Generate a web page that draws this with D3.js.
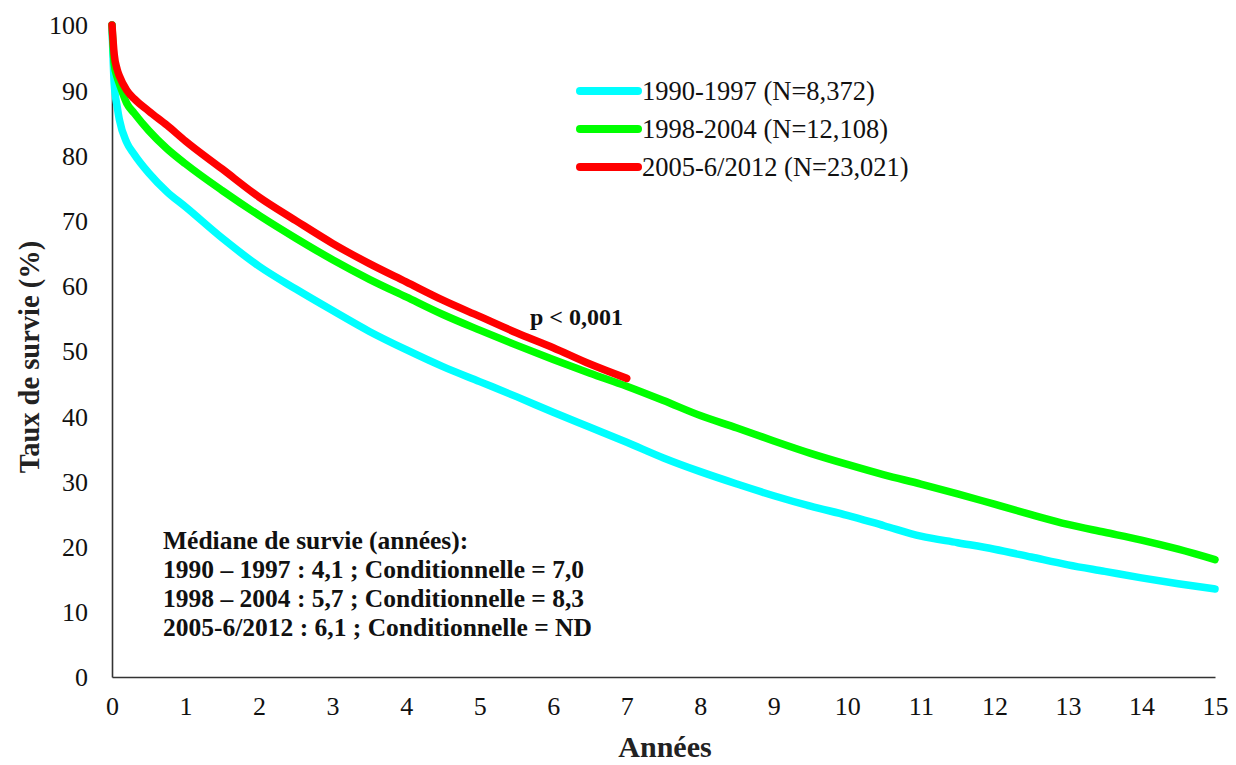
<!DOCTYPE html>
<html>
<head>
<meta charset="utf-8">
<script src="https://cdn.jsdelivr.net/npm/d3@7"></script>
<style>
  html, body { margin: 0; padding: 0; background: #fff; }
  svg { display: block; font-family: "Liberation Serif", "Times New Roman", serif; }
</style>
</head>
<body>
<div id="chart"></div>
<script>
// Survival curves (years -> % surviving)
const TIMES = [0, 0.03, 0.07, 0.1, 0.2, 0.3, 0.5, 0.75, 1, 1.5, 2, 2.5, 3, 3.5, 4, 4.5, 5, 5.5, 6, 6.5, 7,
  7.5, 8, 8.5, 9, 9.5, 10, 10.5, 11, 11.5, 12, 12.5, 13, 13.5, 14, 14.5, 15];

const S_1990 = [100, 91, 87.5, 85.5, 82, 80.2, 77.3, 74.4, 72.1, 67.3, 63, 59.5, 56.2, 53, 50.2, 47.6, 45.3, 43, 40.6, 38.3, 36,
  33.6, 31.5, 29.6, 27.8, 26.2, 24.8, 23.2, 21.6, 20.6, 19.6, 18.4, 17.2, 16.2, 15.2, 14.3, 13.5];
const S_1998 = [100, 94, 92, 91, 88, 86.5, 83.8, 81, 78.7, 74.6, 70.8, 67.3, 64, 61, 58.3, 55.6, 53.2, 50.9, 48.7, 46.6, 44.6,
  42.4, 40.1, 38.2, 36.2, 34.3, 32.6, 31, 29.6, 28.1, 26.5, 24.9, 23.4, 22.2, 21, 19.6, 18];
const S_2005 = [100, 95.5, 93.2, 92.2, 90, 88.7, 86.8, 84.6, 82.2, 77.9, 73.6, 70, 66.5, 63.4, 60.6, 57.8, 55.3, 52.8, 50.5, 48, 45.8];

const SERIES = [
  { name: "1990-1997 (N=8,372)", color: "#00ffff", values: S_1990 },
  { name: "1998-2004 (N=12,108)", color: "#00ff00", values: S_1998 },
  { name: "2005-6/2012 (N=23,021)", color: "#ff0000", values: S_2005 }
];

const X_TICKS = d3.range(0, 16);
const Y_TICKS = d3.range(0, 101, 10);

const MEDIAN_LINES = [
  "Médiane de survie (années):",
  "1990 – 1997 : 4,1 ; Conditionnelle = 7,0",
  "1998 – 2004 : 5,7 ; Conditionnelle = 8,3",
  "2005-6/2012 : 6,1 ; Conditionnelle = ND"
];

const width = 1236, height = 765;
const m = { top: 25, right: 20, bottom: 88, left: 112 };

const svg = d3.select("#chart").append("svg")
  .attr("width", width)
  .attr("height", height);

const x = d3.scaleLinear().domain([0, 15]).range([m.left, 1215]);
const y = d3.scaleLinear().domain([0, 100]).range([677, m.top]);

// ----- axes -----
const xAxis = svg.append("g")
  .attr("transform", `translate(0,${y(0)})`)
  .call(d3.axisBottom(x).tickValues(X_TICKS).tickFormat(d3.format("d")).tickSize(0).tickPadding(20));

const yAxis = svg.append("g")
  .attr("transform", `translate(${m.left},0)`)
  .call(d3.axisLeft(y).tickValues(Y_TICKS).tickFormat(d3.format("d")).tickSize(0).tickPadding(24));

[xAxis, yAxis].forEach(a => {
  a.select(".domain").attr("stroke", "#333").attr("stroke-width", 1.6);
  a.selectAll("text")
    .attr("font-family", "Liberation Serif, serif")
    .attr("font-size", 26)
    .attr("fill", "#111");
});
yAxis.selectAll("text").attr("dy", "0.34em");

// axis titles
svg.append("text")
  .attr("x", 665)
  .attr("y", 746)
  .attr("text-anchor", "middle")
  .attr("dominant-baseline", "central")
  .attr("font-weight", "bold")
  .attr("font-size", 30)
  .attr("fill", "#222")
  .text("Années");

svg.append("text")
  .attr("transform", `translate(29,357) rotate(-90)`)
  .attr("text-anchor", "middle")
  .attr("dominant-baseline", "central")
  .attr("font-weight", "bold")
  .attr("font-size", 28.5)
  .attr("fill", "#222")
  .text("Taux de survie (%)");

// ----- curves -----
const line = d3.line()
  .curve(d3.curveMonotoneX)
  .x(d => x(d[0]))
  .y(d => y(d[1]));

SERIES.forEach(s => {
  svg.append("path")
    .datum(s.values.map((v, i) => [TIMES[i], v]))
    .attr("fill", "none")
    .attr("stroke", s.color)
    .attr("stroke-width", 7.5)
    .attr("stroke-linejoin", "round")
    .attr("stroke-linecap", "round")
    .attr("d", line);
});

// ----- legend -----
const legend = svg.append("g").attr("transform", "translate(580,91)");
SERIES.forEach((s, i) => {
  const row = legend.append("g").attr("transform", `translate(0,${i * 38})`);
  row.append("line")
    .attr("x1", 0).attr("x2", 58)
    .attr("stroke", s.color)
    .attr("stroke-width", 8)
    .attr("stroke-linecap", "round");
  row.append("text")
    .attr("x", 62)
    .attr("dominant-baseline", "central")
    .attr("font-size", 26.5)
    .attr("fill", "#111")
    .text(s.name);
});

// ----- annotations -----
svg.append("text")
  .attr("x", 530)
  .attr("y", 317)
  .attr("dominant-baseline", "central")
  .attr("font-weight", "bold")
  .attr("font-size", 24)
  .attr("fill", "#111")
  .text("p < 0,001");

svg.append("g")
  .selectAll("text")
  .data(MEDIAN_LINES)
  .join("text")
  .attr("x", 163)
  .attr("y", (d, i) => 540 + i * 29)
  .attr("dominant-baseline", "central")
  .attr("font-weight", "bold")
  .attr("font-size", 25.5)
  .attr("fill", "#111")
  .text(d => d);
</script>
</body>
</html>
